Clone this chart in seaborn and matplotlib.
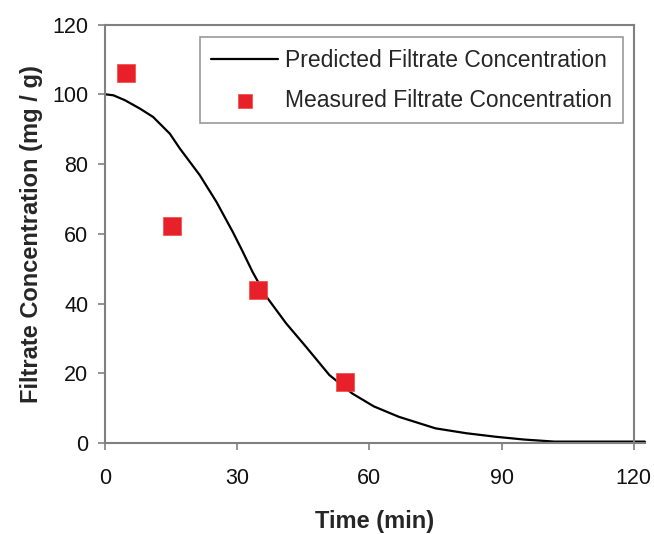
import seaborn as sns
import matplotlib.pyplot as plt

# predicted curve
pred_time = [0, 1.9, 4.5, 7.9, 10.9, 14.7, 17.0, 21.5, 25.3, 29.0, 31.0, 33.5, 36.6, 41.1,
             45.6, 50.9, 56.1, 61, 66.7, 75, 82, 88.6, 95, 102, 110, 122.5]
pred_conc = [100, 99.7, 98.3, 95.9, 93.5, 88.7, 84.4, 76.8, 69.1, 60.5, 55.5, 49.0, 42.0, 34.3,
             27.6, 19.5, 14.2, 10.5, 7.5, 4.2, 2.8, 1.8, 1.0, 0.4, 0.4, 0.4]

# measured points
meas_time = [4.8, 15.1, 34.7, 54.5]
meas_conc = [106.1, 62.3, 43.8, 17.4]

sns.set_style("white")
plt.rcParams['font.family'] = ['Liberation Sans', 'DejaVu Sans']

fig = plt.figure(figsize=(6.54, 5.34), dpi=100)
ax = fig.add_axes([0.1606, 0.1704, 0.8254, 0.7837])

sns.lineplot(x=pred_time, y=pred_conc, color="black", linewidth=1.6,
             label="Predicted Filtrate Concentration", ax=ax, clip_on=False)
sns.scatterplot(x=meas_time, y=meas_conc, color="#e8202a", marker="s", s=170,
                edgecolor="#f04a3a", linewidth=0.5,
                label="Measured Filtrate Concentration", ax=ax, zorder=3)

ax.set_xlim(0, 122.5)
ax.set_ylim(0, 120)
ax.set_xticks([0, 30, 60, 90, 120])
ax.set_yticks([0, 20, 40, 60, 80, 100, 120])
ax.tick_params(axis='both', labelsize=15.5, length=5, width=1.2, color="#808080",
               direction='out', pad=7, labelcolor="#111111")
ax.tick_params(axis='x', pad=13)
ax.tick_params(bottom=True, left=True)

ax.set_xlabel("Time (min)", fontsize=17, fontweight='bold', labelpad=15)
ax.set_ylabel("Filtrate Concentration (mg / g)", fontsize=17, fontweight='bold', labelpad=7)

# 坐标轴样式
for spine in ax.spines.values():
    spine.set_edgecolor("#808080")
    spine.set_linewidth(1.5)
ax.spines['top'].set_bounds(0, 120)
ax.spines['right'].set_position(('data', 120))

leg = ax.legend(loc='upper right', bbox_to_anchor=(0.96, 0.97), fontsize=16.5,
                frameon=True, fancybox=False, edgecolor="#808080", labelspacing=0.75,
                handlelength=2.9, handletextpad=0.3, borderpad=0.5, borderaxespad=0,
                markerscale=0.75)
leg.get_frame().set_linewidth(1.2)

plt.savefig("out.png", dpi=100)
